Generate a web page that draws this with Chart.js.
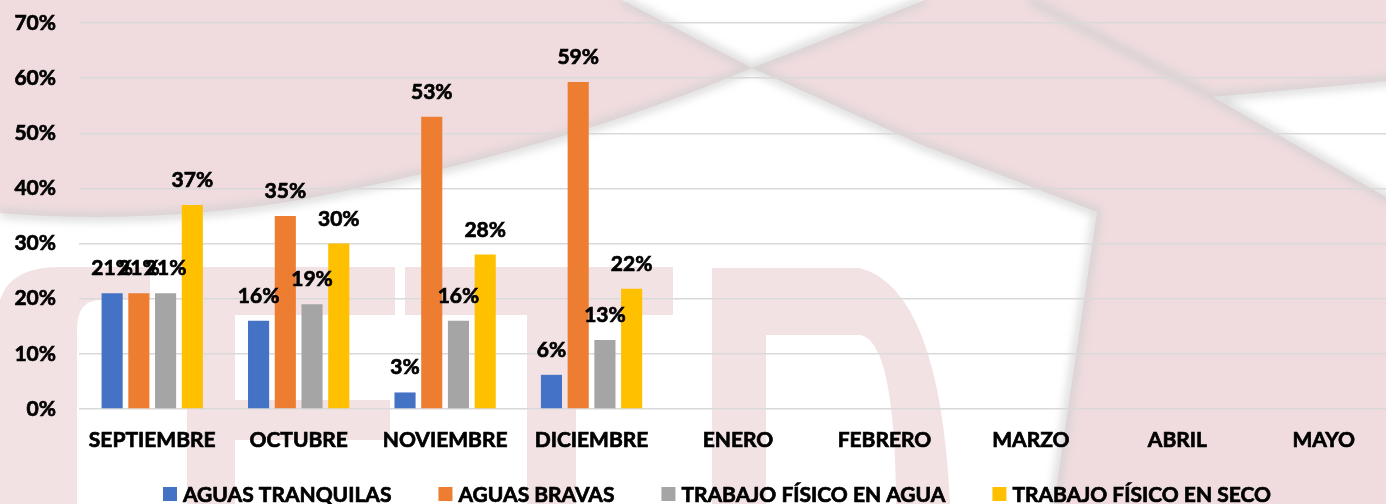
<!DOCTYPE html>
<html lang="es">
<head>
<meta charset="utf-8">
<title>Entrenamientos por mes</title>
<script src="https://cdn.jsdelivr.net/npm/chart.js@4.4.1/dist/chart.umd.min.js"></script>
<style>
  html, body { margin: 0; padding: 0; background: #fff; overflow: hidden; }
  .chart-box { width: 1400px; height: 504px; }
</style>
</head>
<body>
<div class="chart-box"><canvas id="myChart" width="1400" height="504"></canvas></div>
<script>
const months = ['SEPTIEMBRE', 'OCTUBRE', 'NOVIEMBRE', 'DICIEMBRE', 'ENERO', 'FEBRERO', 'MARZO', 'ABRIL', 'MAYO'];
const seriesNames = ['AGUAS TRANQUILAS', 'AGUAS BRAVAS', 'TRABAJO FÍSICO EN AGUA', 'TRABAJO FÍSICO EN SECO'];
const seriesColors = ['#4472C4', '#ED7D31', '#A5A5A5', '#FFC000'];
const aguasTranquilas = [21, 16, 3, 6.2, null, null, null, null, null];
const aguasBravas = [21, 35, 53, 59.3, null, null, null, null, null];
const trabajoAgua = [21, 19, 16, 12.5, null, null, null, null, null];
const trabajoSeco = [37, 30, 28, 21.8, null, null, null, null, null];
const yTicks = [0, 10, 20, 30, 40, 50, 60, 70];

const FONT = 'Lato, "Open Sans", sans-serif';
const STROKE = 0.7; // engrosa un poco el texto, como la Calibri negrita

// logo de fondo (marca de agua)
const watermark = {
  id: 'watermark',
  beforeDraw(chart) {
    const ctx = chart.ctx;
    ctx.save();
    ctx.fillStyle = '#fff';
    ctx.fillRect(0, 0, chart.width, chart.height);

    ctx.fillStyle = '#f0dcdf';
    ctx.beginPath();
    ctx.moveTo(0, 0);
    ctx.lineTo(622, 0);
    ctx.lineTo(752, 68);
    ctx.lineTo(925, 0);
    ctx.lineTo(1400, 0);
    ctx.lineTo(1400, 80);
    ctx.lineTo(1213, 97);
    ctx.lineTo(1400, 205);
    ctx.lineTo(1400, 504);
    ctx.lineTo(1054, 504);
    ctx.lineTo(1097, 212);
    ctx.lineTo(922, 145);
    ctx.lineTo(752, 68);
    ctx.quadraticCurveTo(560, 150, 300, 200);
    ctx.quadraticCurveTo(150, 225, 0, 213);
    ctx.closePath();
    ctx.fill();

    // letras C E T D
    ctx.fillStyle = '#f3e2e4';
    ctx.beginPath();
    ctx.moveTo(0, 300);
    ctx.quadraticCurveTo(10, 267, 60, 267);
    ctx.lineTo(150, 267);
    ctx.lineTo(150, 300);
    ctx.lineTo(100, 300);
    ctx.quadraticCurveTo(77, 300, 77, 330);
    ctx.lineTo(77, 504);
    ctx.lineTo(0, 504);
    ctx.closePath();
    ctx.rect(187, 267, 48, 237);
    ctx.rect(235, 267, 160, 48);
    ctx.rect(235, 400, 155, 40);
    ctx.rect(405, 267, 268, 48);
    ctx.rect(527, 315, 49, 189);
    ctx.moveTo(712, 268);
    ctx.lineTo(860, 268);
    ctx.quadraticCurveTo(940, 290, 950, 504);
    ctx.lineTo(896, 504);
    ctx.quadraticCurveTo(895, 340, 860, 335);
    ctx.lineTo(766, 335);
    ctx.lineTo(766, 504);
    ctx.lineTo(712, 504);
    ctx.closePath();
    ctx.fill();

    // bordes grises difuminados
    ctx.filter = 'blur(4px)';
    ctx.strokeStyle = 'rgba(205,205,205,0.7)';
    ctx.lineWidth = 9;
    ctx.beginPath();
    ctx.moveTo(622, 0);
    ctx.lineTo(752, 68);
    ctx.lineTo(922, 145);
    ctx.lineTo(1097, 212);
    ctx.lineTo(1054, 504);
    ctx.moveTo(925, 0);
    ctx.lineTo(752, 68);
    ctx.quadraticCurveTo(560, 150, 300, 200);
    ctx.quadraticCurveTo(150, 225, 0, 213);
    ctx.moveTo(1030, 0);
    ctx.lineTo(1213, 97);
    ctx.lineTo(1400, 205);
    ctx.moveTo(1213, 97);
    ctx.lineTo(1400, 80);
    ctx.stroke();
    ctx.filter = 'none';
    ctx.restore();
  }
};

function boldText(ctx, text, x, y) {
  ctx.strokeText(text, x, y);
  ctx.fillText(text, x, y);
}

// etiquetas de porcentaje sobre cada barra
const barLabels = {
  id: 'barLabels',
  afterDatasetsDraw(chart) {
    const ctx = chart.ctx;
    ctx.save();
    ctx.font = 'bold 21px ' + FONT;
    ctx.fillStyle = '#000';
    ctx.strokeStyle = '#000';
    ctx.lineWidth = STROKE;
    ctx.textAlign = 'center';
    ctx.textBaseline = 'alphabetic';
    chart.data.datasets.forEach((ds, i) => {
      chart.getDatasetMeta(i).data.forEach((bar, j) => {
        const v = ds.data[j];
        if (v == null) return;
        boldText(ctx, Math.round(v) + '%', bar.x, bar.y - 18);
      });
    });
    ctx.restore();
  }
};

// leyenda dibujada a mano para controlar el espaciado
const bottomLegend = {
  id: 'bottomLegend',
  afterDraw(chart) {
    const ctx = chart.ctx;
    const box = 14, gap = 6, spacing = 47;
    ctx.save();
    ctx.font = 'bold 21px ' + FONT;
    ctx.textBaseline = 'middle';
    ctx.strokeStyle = '#000';
    ctx.lineWidth = STROKE;
    const widths = seriesNames.map(t => ctx.measureText(t).width);
    const total = widths.reduce((a, w) => a + box + gap + w, 0) + spacing * (seriesNames.length - 1);
    let x = 717 - total / 2;
    const y = 494;
    seriesNames.forEach((name, i) => {
      ctx.fillStyle = seriesColors[i];
      ctx.fillRect(x, y - box / 2, box, box);
      ctx.fillStyle = '#000';
      boldText(ctx, name, x + box + gap, y + 1);
      x += box + gap + widths[i] + spacing;
    });
    ctx.restore();
  }
};

const series = [aguasTranquilas, aguasBravas, trabajoAgua, trabajoSeco];
const tickFont = { family: FONT, size: 21, weight: 'bold' };

new Chart(document.getElementById('myChart'), {
  type: 'bar',
  data: {
    labels: months,
    datasets: series.map((data, i) => ({
      label: seriesNames[i],
      data: data,
      backgroundColor: seriesColors[i],
      borderWidth: 0,
      categoryPercentage: 0.73,
      barPercentage: 0.79
    }))
  },
  options: {
    responsive: false,
    animation: false,
    layout: { padding: { top: 23, right: 3, bottom: 0, left: 0 } },
    plugins: {
      legend: { display: false },
      tooltip: { enabled: false }
    },
    scales: {
      x: {
        grid: { display: false },
        border: { display: false },
        ticks: {
          color: '#000', font: tickFont, padding: 11, maxRotation: 0, autoSkip: false,
          textStrokeColor: '#000', textStrokeWidth: STROKE
        },
        afterFit: (s) => { s.height = 95; }
      },
      y: {
        min: 0,
        max: 70,
        afterBuildTicks: (s) => { s.ticks = yTicks.map(v => ({ value: v })); },
        grid: { color: '#d9d9d9', lineWidth: 1.5, drawTicks: false },
        border: { display: false },
        ticks: {
          color: '#000', font: tickFont, padding: 23, callback: (v) => v + '%',
          textStrokeColor: '#000', textStrokeWidth: STROKE
        },
        afterFit: (s) => { s.width = 79; s.paddingTop = 0; }
      }
    }
  },
  plugins: [watermark, barLabels, bottomLegend]
});
</script>
</body>
</html>
